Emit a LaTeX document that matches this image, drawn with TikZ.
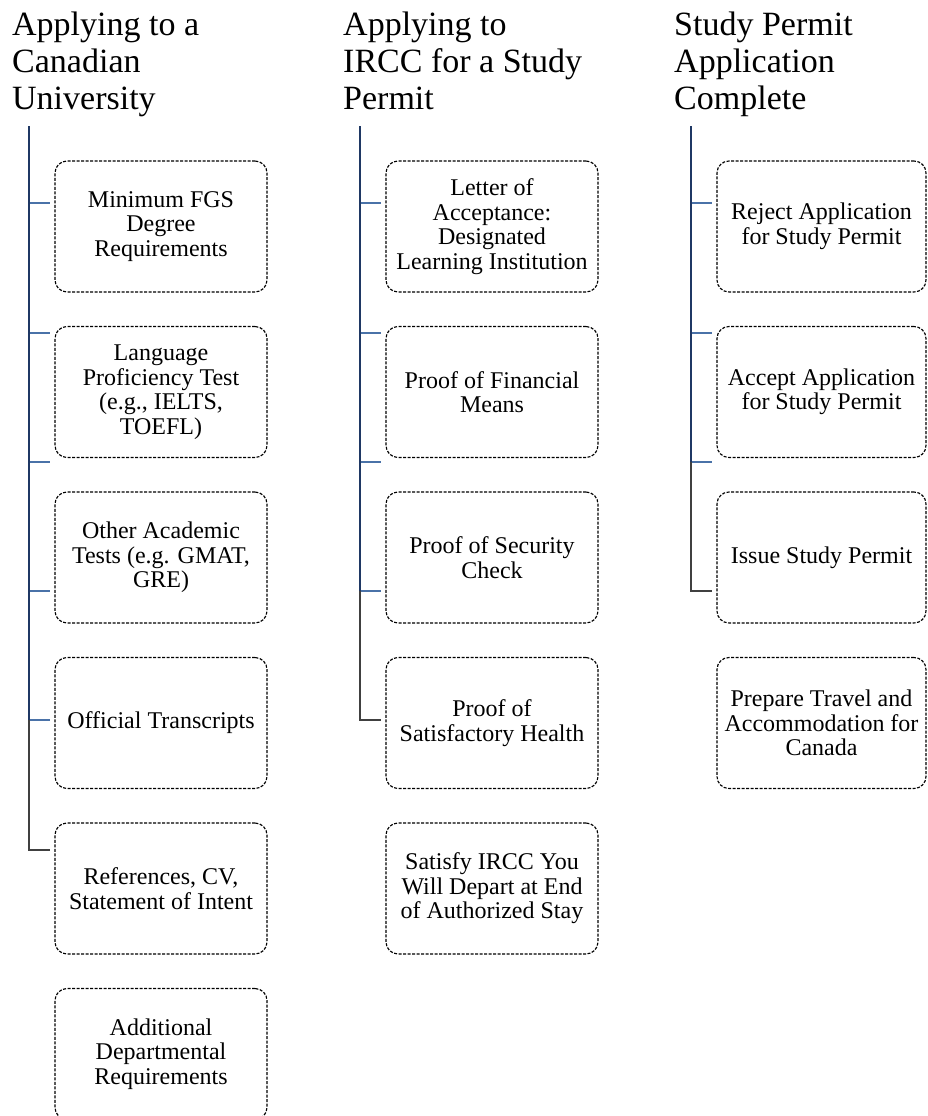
\documentclass[tikz,border=0pt]{standalone}
\usepackage{fontspec}
\setmainfont{Liberation Serif}
\definecolor{navy}{HTML}{1F3864}
\definecolor{tickblue}{HTML}{4A72A8}
\definecolor{elbow}{HTML}{404040}
\begin{document}
\begin{tikzpicture}[x=1pt,y=-1pt,
 card/.style={draw=black, line width=1.15pt, dash pattern=on 3pt off 1.5pt, rounded corners=12pt, minimum width=212pt, minimum height=131pt, align=center, inner sep=2pt, font=\fontsize{24}{24.5}\selectfont},
 cardn/.style={card, minimum width=209pt},
 head/.style={anchor=north west, align=left, inner sep=0pt, font=\fontsize{34}{37}\selectfont},
 spine/.style={draw=navy, line width=1.6pt},
 tickline/.style={draw=tickblue, line width=1.6pt},
 elbowline/.style={draw=elbow, line width=1.3pt}]
\fill[white] (0,0) rectangle (927,1116);
\useasboundingbox (0,0) rectangle (927,1116);

% headers
\node[head] (h1) at (12,12) {Applying to a\\Canadian\\University};
\node[head] (h2) at (343,12) {Applying to\\IRCC for a Study\\Permit};
\node[head] (h3) at (674,12) {Study Permit\\Application\\Complete};

% column 1 boxes
\node[card] (a1) at (161,226.5) {Minimum FGS\\Degree\\Requirements};
\node[card] (a2) at (161,392) {Language\\Proficiency Test\\(e.g., IELTS,\\TOEFL)};
\node[card] (a3) at (161,557.5) {Other Academic\\Tests (e.g. GMAT,\\GRE)};
\node[card] (a4) at (161,723) {Official Transcripts};
\node[card] (a5) at (161,888.5) {References, CV,\\Statement of Intent};
\node[card] (a6) at (161,1054) {Additional\\Departmental\\Requirements};

% column 2 boxes
\node[card] (b1) at (492,226.5) {Letter of\\Acceptance:\\Designated\\Learning Institution};
\node[card] (b2) at (492,392) {Proof of Financial\\Means};
\node[card] (b3) at (492,557.5) {Proof of Security\\Check};
\node[card] (b4) at (492,723) {Proof of\\Satisfactory Health};
\node[card] (b5) at (492,888.5) {Satisfy IRCC You\\Will Depart at End\\of Authorized Stay};

% column 3 boxes
\node[cardn] (c1) at (821.5,226.5) {Reject Application\\for Study Permit};
\node[cardn] (c2) at (821.5,392) {Accept Application\\for Study Permit};
\node[cardn] (c3) at (821.5,557.5) {Issue Study Permit};
\node[cardn] (c4) at (821.5,723) {Prepare Travel and\\Accommodation for\\Canada};

% column 1 spine
\coordinate (s1top) at (29,126);
\coordinate (s1end) at (29,850);
\coordinate (s1foot) at (50,850);
\foreach \y [count=\k] in {203,333,462,591,720} {
  \coordinate (s1a\k) at (29,\y);
  \coordinate (s1b\k) at (50,\y);
  \draw[tickline] (s1a\k) -- (s1b\k);
}
\draw[spine] (s1top) -- (s1a5);
\draw[elbowline] (s1a5) -- (s1end) -- (s1foot);

% column 2 spine
\coordinate (s2top) at (360,126);
\coordinate (s2end) at (360,720);
\coordinate (s2foot) at (381,720);
\foreach \y [count=\k] in {203,333,462,591} {
  \coordinate (s2a\k) at (360,\y);
  \coordinate (s2b\k) at (381,\y);
  \draw[tickline] (s2a\k) -- (s2b\k);
}
\draw[spine] (s2top) -- (s2a4);
\draw[elbowline] (s2a4) -- (s2end) -- (s2foot);

% column 3 spine
\coordinate (s3top) at (691,126);
\coordinate (s3end) at (691,591);
\coordinate (s3foot) at (712,591);
\foreach \y [count=\k] in {203,333,462} {
  \coordinate (s3a\k) at (691,\y);
  \coordinate (s3b\k) at (712,\y);
  \draw[tickline] (s3a\k) -- (s3b\k);
}
\draw[spine] (s3top) -- (s3a3);
\draw[elbowline] (s3a3) -- (s3end) -- (s3foot);
\end{tikzpicture}
\end{document}
